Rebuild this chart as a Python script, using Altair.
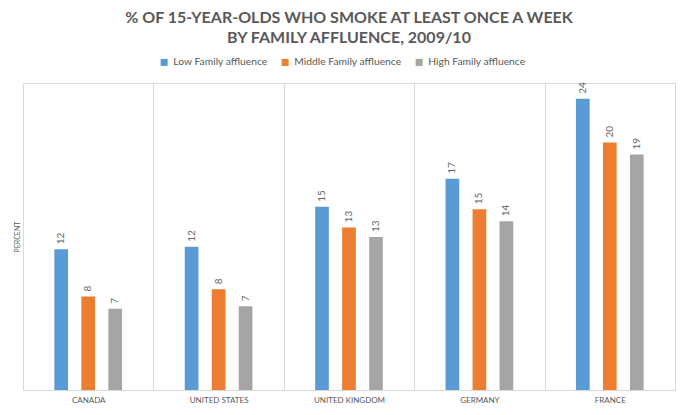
import altair as alt
import pandas as pd

countries = ["CANADA", "UNITED STATES", "UNITED KINGDOM", "GERMANY", "FRANCE"]
series = ["Low Family affluence", "Middle Family affluence", "High Family affluence"]
low = [11.6, 11.8, 15.1, 17.4, 24.0]
middle = [7.7, 8.3, 13.4, 14.9, 20.4]
high = [6.7, 6.9, 12.6, 13.9, 19.4]
colors = ["#5B9BD5", "#ED7D31", "#A5A5A5"]

rows = []
for i, c in enumerate(countries):
    for s, vals in zip(series, [low, middle, high]):
        rows.append({"country": c, "series": s, "value": vals[i]})
df = pd.DataFrame(rows)

FONT = "Lato"
TXT = "#595959"

base = alt.Chart(df).encode(
    x=alt.X(
        "country:N",
        sort=countries,
        scale=alt.Scale(paddingInner=0, paddingOuter=0),
        axis=alt.Axis(
            title=None,
            labelAngle=0,
            labelFontSize=8,
            labelColor=TXT,
            labelFont=FONT,
            labelPadding=6,
            ticks=False,
            domainColor="#D9D9D9",
            grid=True,
            gridColor="#D9D9D9",
            tickBand="extent",
        ),
    ),
    xOffset=alt.XOffset(
        "series:N", sort=series, scale=alt.Scale(paddingInner=0, paddingOuter=0.915)
    ),
    y=alt.Y(
        "value:Q",
        scale=alt.Scale(domain=[0, 25.3], nice=False, zero=True),
        axis=alt.Axis(
            title="PERCENT",
            labels=False,
            ticks=False,
            domain=False,
            grid=False,
            titleFontSize=7,
            titleFontWeight="normal",
            titleColor=TXT,
            titleFont=FONT,
            titlePadding=3,
        ),
    ),
)

bars = base.mark_bar(width=13.7).encode(
    color=alt.Color(
        "series:N",
        sort=series,
        scale=alt.Scale(domain=series, range=colors),
        legend=alt.Legend(
            title=None,
            orient="none",
            direction="horizontal",
            legendX=136,
            legendY=-26,
            symbolType="square",
            symbolSize=49,
            symbolStrokeWidth=0,
            labelFontSize=10.3,
            labelFont=FONT,
            labelColor=TXT,
            labelOffset=4,
            columnPadding=12,
            padding=0,
        ),
    )
)

labels = base.mark_text(
    angle=270, align="left", baseline="middle", dx=5, fontSize=10, color="#666666", font=FONT
).encode(text=alt.Text("value:Q", format=".0f"))

chart = (
    alt.layer(bars, labels)
    .properties(
        width=652,
        height=307,
        title=alt.TitleParams(
            text=["% OF 15-YEAR-OLDS WHO SMOKE AT LEAST ONCE A WEEK", "BY FAMILY AFFLUENCE, 2009/10"],
            fontSize=16,
            fontWeight="bold",
            color=TXT,
            font=FONT,
            anchor="middle",
            lineHeight=20,
            offset=11,
        ),
        autosize=alt.AutoSizeParams(type="none"),
        padding={"left": 15, "top": 75, "right": 6, "bottom": 17},
    )
    .configure_view(stroke=None)
    .configure(background="white")
)

chart.save("out.html", embed_options={"renderer": "svg", "actions": False})
